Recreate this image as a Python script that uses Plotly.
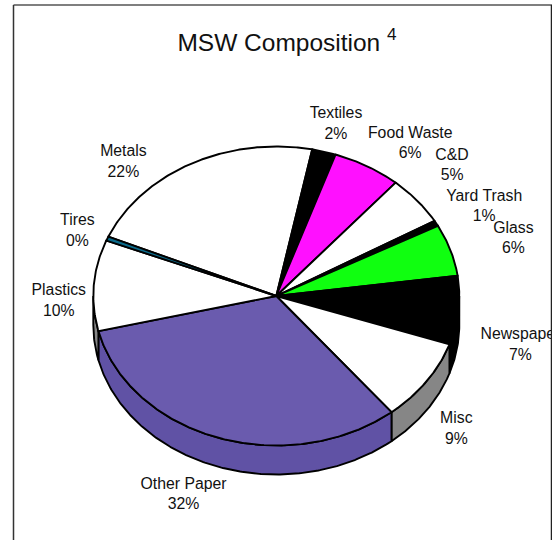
import numpy as np
import plotly.graph_objects as go

# Data (percent of municipal solid waste), clockwise from Metals
categories = ["Metals", "Textiles", "Food Waste", "C&D", "Yard Trash", "Glass",
              "Newspaper", "Misc", "Other Paper", "Plastics", "Tires"]
values = [21.6, 2.1, 6.05, 5.3, 0.6, 5.6, 7.4, 8.9, 32.0, 9.8, 0.45]
shown_percent = [22, 2, 6, 5, 1, 6, 7, 9, 32, 10, 0]

# Styling
top_colors = ["#ffffff", "#000000", "#ff10ff", "#ffffff", "#000000", "#10ff10",
              "#000000", "#ffffff", "#6a5bae", "#ffffff", "#0a6a8a"]
wall_colors = ["#868686", "#000000", "#800880", "#868686", "#000000", "#088008",
               "#000000", "#868686", "#6052a5", "#868686", "#053545"]
label_nudges = [(-68, -1), (12, -27), (43, -22), (35, -34.5), (48, -16.5), (63, -11),
                (62, 35), (30, 48), (-34, 57.5), (-35, 16), (-30, -7)]

W, H = 557, 540
RIGHT = 552
CX, CY, RX, RY, DEPTH = 276.3, 296.0, 183.0, 149.5, 29.0
START_DEG = 293.4
FONT = "Liberation Sans, Arial, sans-serif"


def rim(deg, drop=0.0):
    t = np.radians(deg)
    return CX + RX * np.sin(t), CY - RY * np.cos(t) + drop


fracs = np.array(values) / sum(values) * 360.0
starts = START_DEG + np.concatenate([[0.0], np.cumsum(fracs)[:-1]])
ends = starts + fracs

fig = go.Figure()


def add_poly(xs, ys, fill, name, width=1.9):
    fig.add_trace(go.Scatter(
        x=xs, y=ys, mode="lines", fill="toself", fillcolor=fill, name=name,
        line=dict(color="#000000", width=width), showlegend=False, hoverinfo="name",
    ))


# Side walls (front half only: 90..270 degrees of sweep)
for name, a, b, col in zip(categories, starts, ends, wall_colors):
    a0, b0 = a % 360, a % 360 + (b - a)
    lo, hi = max(a0, 90.0), min(b0, 270.0)
    if hi <= lo:
        continue
    arc = np.linspace(lo, hi, max(int(hi - lo) * 2, 3))
    x1, y1 = rim(arc)
    x2, y2 = rim(arc[::-1], DEPTH)
    add_poly(np.r_[x1, x2, x1[0]], np.r_[y1, y2, y1[0]], col, name + " side")

# Top faces
for name, a, b, col in zip(categories, starts, ends, top_colors):
    arc = np.linspace(a, b, max(int(b - a) * 2, 3))
    x, y = rim(arc)
    add_poly(np.r_[CX, x, CX], np.r_[CY, y, CY], col, name)

# Labels, anchored on each slice's rim midpoint
mids = (starts + ends) / 2
lx, ly = rim(mids)
fig.add_trace(go.Scatter(
    x=lx + np.array([n[0] for n in label_nudges]),
    y=ly + np.array([n[1] for n in label_nudges]),
    mode="text",
    text=[f"{c}<br>{p}%" for c, p in zip(categories, shown_percent)],
    textposition="middle center",
    textfont=dict(family=FONT, size=15.8, color="#111111"),
    showlegend=False, hoverinfo="skip", cliponaxis=True,
))

fig.update_layout(
    width=W, height=H, autosize=False,
    margin=dict(l=0, r=W - RIGHT, t=0, b=0),
    paper_bgcolor="#ffffff", plot_bgcolor="#ffffff", showlegend=False,
    title=dict(text="MSW Composition <sup>4</sup>", x=287 / W, y=1 - 42 / H,
               xanchor="center", yanchor="middle",
               font=dict(family=FONT, size=24.5, color="#111111")),
    xaxis=dict(range=[0, RIGHT], visible=False, fixedrange=True),
    yaxis=dict(range=[H, 0], visible=False, fixedrange=True),
    shapes=[
        dict(type="line", xref="x", yref="y", x0=13.5, x1=552, y0=5, y1=5,
             line=dict(color="#555555", width=1.5), layer="below"),
        dict(type="line", xref="x", yref="y", x0=13.5, x1=13.5, y0=5, y1=540,
             line=dict(color="#333333", width=1.5), layer="below"),
        dict(type="line", xref="x", yref="y", x0=551.5, x1=551.5, y0=5, y1=540,
             line=dict(color="#222222", width=1.5), layer="above"),
    ],
)

fig.write_html(
    "out.html",
    config={"displayModeBar": False},
    post_script="document.body.style.margin='0';"
                "document.documentElement.style.overflow='hidden';",
)
